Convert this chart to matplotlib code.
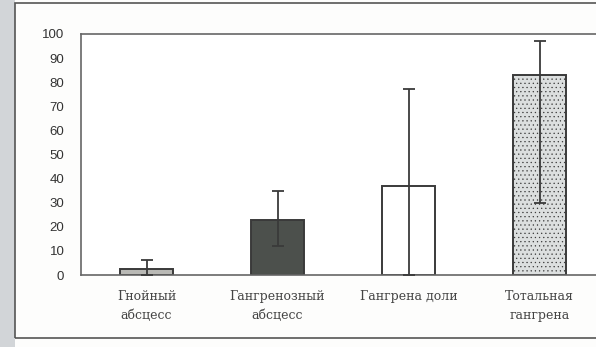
import matplotlib
matplotlib.use("Agg")
import matplotlib.pyplot as plt
from matplotlib.patches import Rectangle

# Categories and mean values with asymmetric spread
categories = ["Гнойный\nабсцесс", "Гангренозный\nабсцесс", "Гангрена доли", "Тотальная\nгангрена"]
values = [2.5, 23, 37, 83]
err_low = [2.5, 11, 37, 53]
err_high = [3.8, 12, 40, 14]
yticks = [0, 10, 20, 30, 40, 50, 60, 70, 80, 90, 100]

fill_colors = ["#b9b9b5", "#4c504c", "#ffffff", "#dcdfdf"]
hatches = [None, None, None, "...."]

W, H = 596, 347
fig = plt.figure(figsize=(W / 100, H / 100), dpi=100)
fig.patch.set_facecolor("#fdfdfc")

# grey margin and outer frame
fig.add_artist(Rectangle((0, 0), 15 / W, 1, transform=fig.transFigure,
                         facecolor="#d2d5d8", edgecolor="none", zorder=0))
fig.add_artist(Rectangle((15 / W, 1 - 338 / H), 1.0, (338 - 3) / H,
                         transform=fig.transFigure, facecolor="none",
                         edgecolor="#555555", linewidth=1.2, zorder=1))

ax = fig.add_axes([81 / W, 1 - 275 / H, (605 - 81) / W, (275 - 34) / H])
ax.set_facecolor("#ffffff")

x = list(range(len(categories)))
plt.rcParams["hatch.color"] = "#c2c5c5"
plt.rcParams["hatch.linewidth"] = 0.4
bars = ax.bar(x, values, width=0.41, color=fill_colors, edgecolor="#3a3a3a",
              linewidth=1.4, zorder=2)
for b, h in zip(bars, hatches):
    if h:
        b.set_hatch(h)

ax.errorbar(x, values, yerr=[err_low, err_high], fmt="none", ecolor="#3a3a3a",
            elinewidth=1.3, capsize=4, capthick=1.3, zorder=3)

ax.set_xlim(-0.5, 3.5)
ax.set_ylim(0, 100)
ax.set_yticks(yticks)
ax.set_yticklabels([str(v) for v in yticks], fontsize=9.5, color="#333333",
                   family="Liberation Sans")
ax.tick_params(axis="y", length=0, pad=12)
ax.set_xticks(x)
ax.set_xticklabels(categories, fontsize=9, color="#444444",
                   family="DejaVu Serif", linespacing=1.6)
ax.tick_params(axis="x", length=0, pad=11)

for side in ["left", "top", "bottom"]:
    ax.spines[side].set_color("#666666")
    ax.spines[side].set_linewidth(1.2)
ax.spines["right"].set_visible(False)

fig.savefig("out.png", dpi=100)
